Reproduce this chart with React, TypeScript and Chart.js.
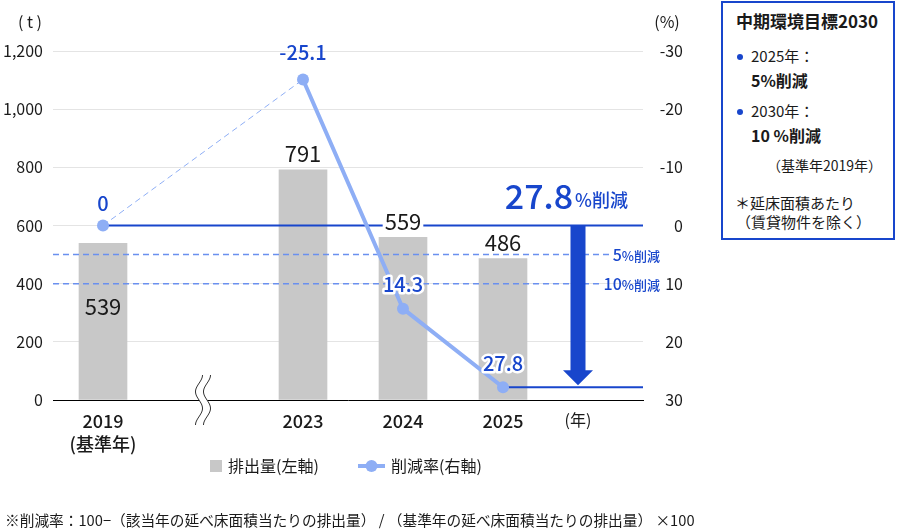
import React, { useEffect, useRef } from 'react';
import { Chart, registerables } from 'chart.js';

Chart.register(...registerables);

const FONT = '"Noto Sans CJK JP", "Noto Sans", sans-serif';
const DARK_BLUE = '#1846cc';
const LIGHT_BLUE = '#8eaef5';
const DASH_BLUE = '#6a90ef';
const BAR_GRAY = '#c8c8c8';
const TEXT = '#1a1a1a';

// ---- data ----
const categories = ['2019', '2023', '2024', '2025'];
const categorySubLabels = ['(基準年)', '', '', ''];
const slotPositions = [0, 2, 3, 4];
const emissions = [539, 791, 559, 486];
const reductionRates = [0, -25.1, 14.3, 27.8];
const leftTicks = [0, 200, 400, 600, 800, 1000, 1200];
const rightTicks = [-30, -20, -10, 0, 10, 20, 30];
const targetRates = [5, 10];
const targetLabels = ['5', '10'];
const yearUnitLabel = '(年)';
const yearUnitSlot = 4.75;
const breakSlot = 1;
const achievedRate = 27.8;
const achievedLabel = '27.8';
const legendLabels = ['排出量(左軸)', '削減率(右軸)'];
const footnote = '※削減率：100−（該当年の延べ床面積当たりの排出量） / （基準年の延べ床面積当たりの排出量） ×100';

const overlayPlugin = {
  id: 'overlay',
  afterDatasetDraw(chart: any, args: any) {
    if (args.meta.type !== 'bar') return;
    const ctx = chart.ctx;
    const xs = chart.scales.x;
    const y1 = chart.scales.y1;
    const area = chart.chartArea;
    const y0 = y1.getPixelForValue(0);
    ctx.save();
    // dashed target lines
    targetRates.forEach((r, i) => {
      const y = y1.getPixelForValue(r);
      const rightEdge = area.right + 17;
      ctx.font = `500 16px ${FONT}`;
      const w1 = ctx.measureText(targetLabels[i]).width;
      ctx.font = `500 13px ${FONT}`;
      const w2 = ctx.measureText('%削減').width;
      const start = rightEdge - w1 - w2;
      ctx.strokeStyle = DASH_BLUE;
      ctx.lineWidth = 1.5;
      ctx.setLineDash([6, 4]);
      ctx.beginPath();
      ctx.moveTo(area.left, y);
      ctx.lineTo(start - 2, y);
      ctx.stroke();
      ctx.setLineDash([]);
      ctx.fillStyle = DARK_BLUE;
      ctx.textBaseline = 'alphabetic';
      ctx.textAlign = 'left';
      ctx.font = `500 16px ${FONT}`;
      ctx.fillText(targetLabels[i], start, y + 6);
      ctx.font = `500 13px ${FONT}`;
      ctx.fillText('%削減', start + w1, y + 6);
    });
    // zero line
    ctx.strokeStyle = DARK_BLUE;
    ctx.lineWidth = 2;
    ctx.beginPath();
    ctx.moveTo(xs.getPixelForValue(slotPositions[0]), y0);
    ctx.lineTo(area.right, y0);
    ctx.stroke();
    // achieved line
    const ya = y1.getPixelForValue(achievedRate);
    ctx.beginPath();
    ctx.moveTo(xs.getPixelForValue(slotPositions[3]), ya);
    ctx.lineTo(area.right, ya);
    ctx.stroke();
    // arrow
    const ax = xs.getPixelForValue(yearUnitSlot);
    const tip = ya - 2;
    const headH = 15;
    ctx.fillStyle = DARK_BLUE;
    ctx.fillRect(ax - 7.5, y0, 15, tip - headH - y0 + 1);
    ctx.beginPath();
    ctx.moveTo(ax - 15, tip - headH);
    ctx.lineTo(ax + 15, tip - headH);
    ctx.lineTo(ax, tip);
    ctx.closePath();
    ctx.fill();
    // big label
    ctx.font = `500 34px ${FONT}`;
    const wBig = ctx.measureText(achievedLabel).width;
    ctx.font = `500 18px ${FONT}`;
    const wSmall = ctx.measureText('%削減').width;
    const rightX = ax + 50;
    const sx = rightX - wSmall - wBig - 2;
    ctx.textAlign = 'left';
    ctx.textBaseline = 'alphabetic';
    ctx.font = `500 34px ${FONT}`;
    ctx.fillText(achievedLabel, sx, y0 - 17);
    ctx.font = `500 18px ${FONT}`;
    ctx.fillText('%削減', sx + wBig + 2, y0 - 19);
    ctx.restore();
  },
  afterDatasetsDraw(chart: any) {
    const ctx = chart.ctx;
    const xs = chart.scales.x;
    const area = chart.chartArea;
    ctx.save();
    // bar labels
    const barMeta = chart.getDatasetMeta(1);
    ctx.font = `400 22px ${FONT}`;
    ctx.textAlign = 'center';
    ctx.textBaseline = 'middle';
    barMeta.data.forEach((bar: any, i: number) => {
      const txt = String(emissions[i]);
      const y = i === 0 ? bar.y + 62 : bar.y - 17;
      const w = ctx.measureText(txt).width;
      ctx.fillStyle = '#fff';
      if (i !== 0) ctx.fillRect(bar.x - w / 2 - 2, y - 11, w + 4, 22);
      ctx.fillStyle = TEXT;
      ctx.fillText(txt, bar.x, y + 1);
    });
    // line labels
    const lineMeta = chart.getDatasetMeta(0);
    ctx.font = `500 20px ${FONT}`;
    lineMeta.data.forEach((pt: any, i: number) => {
      const txt = String(reductionRates[i]);
      const y = pt.y - (i === 1 ? 27 : i === 0 ? 22 : 24);
      ctx.lineWidth = 5;
      ctx.strokeStyle = '#fff';
      ctx.lineJoin = 'round';
      if (i >= 2) ctx.strokeText(txt, pt.x, y);
      ctx.fillStyle = DARK_BLUE;
      ctx.fillText(txt, pt.x, y);
    });
    // axis unit labels
    ctx.fillStyle = TEXT;
    ctx.font = `400 16px ${FONT}`;
    ctx.fillText('( t )', 30, 22);
    ctx.fillText('(%)', 667, 22);
    // axis break
    const bx = xs.getPixelForValue(breakSlot);
    const by = area.bottom;
    const wave = (cx: number) => {
      const pts: [number, number][] = [];
      for (let t = 0; t <= 50; t++) {
        pts.push([cx + 3.5 * Math.sin((t / 50) * Math.PI * 3 + Math.PI * 0.5), by - 25 + t]);
      }
      return pts;
    };
    const L = wave(bx - 4);
    const R = wave(bx + 4);
    ctx.fillStyle = '#fff';
    ctx.beginPath();
    L.forEach(([x, y], k) => (k ? ctx.lineTo(x, y) : ctx.moveTo(x, y)));
    R.slice().reverse().forEach(([x, y]) => ctx.lineTo(x, y));
    ctx.closePath();
    ctx.fill();
    ctx.strokeStyle = '#333';
    ctx.lineWidth = 1;
    [L, R].forEach((P) => {
      ctx.beginPath();
      P.forEach(([x, y], k) => (k ? ctx.lineTo(x, y) : ctx.moveTo(x, y)));
      ctx.stroke();
    });
    // legend
    const ly = 466;
    ctx.fillStyle = BAR_GRAY;
    ctx.fillRect(210, ly - 6, 12, 12);
    ctx.fillStyle = TEXT;
    ctx.textAlign = 'left';
    ctx.font = `400 16px ${FONT}`;
    ctx.fillText(legendLabels[0], 228, ly);
    ctx.strokeStyle = LIGHT_BLUE;
    ctx.lineWidth = 4;
    ctx.beginPath();
    ctx.moveTo(358, ly);
    ctx.lineTo(385, ly);
    ctx.stroke();
    ctx.fillStyle = LIGHT_BLUE;
    ctx.beginPath();
    ctx.arc(371.5, ly, 6, 0, Math.PI * 2);
    ctx.fill();
    ctx.fillStyle = TEXT;
    ctx.fillText(legendLabels[1], 391, ly);
    // footnote
    ctx.font = `400 14.7px ${FONT}`;
    ctx.fillText(footnote, 5, 520);
    ctx.restore();
  },
};

export default function App() {
  const ref = useRef<HTMLCanvasElement>(null);
  useEffect(() => {
    document.body.style.margin = '0';
    const chart = new Chart(ref.current as HTMLCanvasElement, {
      type: 'bar',
      data: {
        datasets: [
          {
            type: 'line',
            label: legendLabels[1],
            data: slotPositions.map((x, i) => ({ x, y: reductionRates[i] })),
            xAxisID: 'x',
            yAxisID: 'y1',
            order: 1,
            borderColor: LIGHT_BLUE,
            backgroundColor: LIGHT_BLUE,
            borderWidth: 4,
            pointRadius: 6,
            pointHoverRadius: 6,
            pointBorderWidth: 0,
            clip: false,
            segment: {
              borderDash: (c: any) => (c.p0DataIndex === 0 ? [6, 4] : undefined),
              borderWidth: (c: any) => (c.p0DataIndex === 0 ? 1 : undefined),
            },
          } as any,
          {
            type: 'bar',
            label: legendLabels[0],
            data: slotPositions.map((x, i) => ({ x, y: emissions[i] })),
            xAxisID: 'x',
            yAxisID: 'y',
            order: 2,
            backgroundColor: BAR_GRAY,
            barThickness: 48,
          } as any,
        ],
      },
      options: {
        responsive: true,
        maintainAspectRatio: false,
        animation: false,
        events: [],
        layout: { padding: { top: 51, left: 0, right: 214, bottom: 0 } },
        plugins: { legend: { display: false }, tooltip: { enabled: false } },
        scales: {
          x: {
            type: 'linear',
            min: -0.5,
            max: 5.4,
            offset: false,
            grid: { display: false, drawTicks: false },
            border: { display: true, color: '#000', width: 1 },
            afterBuildTicks: (s: any) => {
              s.ticks = [...slotPositions, yearUnitSlot].map((v) => ({ value: v }));
            },
            afterFit: (s: any) => {
              s.height = 130;
            },
            ticks: {
              autoSkip: false,
              maxRotation: 0,
              padding: 10,
              color: TEXT,
              font: (c: any) =>
                c.index >= categories.length
                  ? { family: FONT, size: 16, weight: '400', lineHeight: 1.25 }
                  : { family: FONT, size: 18, weight: '500', lineHeight: 1.25 },
              callback: (_v: any, i: number) => {
                if (i >= categories.length) return yearUnitLabel;
                return categorySubLabels[i] ? [categories[i], categorySubLabels[i]] : categories[i];
              },
            },
          },
          y: {
            position: 'left',
            min: 0,
            max: 1200,
            grid: { color: '#e4e4e4', drawTicks: false, lineWidth: 1 },
            border: { display: false },
            afterBuildTicks: (s: any) => {
              s.ticks = leftTicks.map((v) => ({ value: v }));
            },
            afterFit: (s: any) => {
              s.width = 53;
            },
            ticks: {
              padding: 10,
              color: TEXT,
              font: { family: FONT, size: 16 },
              callback: (v: any) => Number(v).toLocaleString('en-US'),
            },
          },
          y1: {
            position: 'right',
            min: -30,
            max: 30,
            reverse: true,
            grid: { display: false, drawTicks: false },
            border: { display: false },
            afterBuildTicks: (s: any) => {
              s.ticks = rightTicks.map((v) => ({ value: v }));
            },
            afterFit: (s: any) => {
              s.width = 40;
            },
            ticks: {
              padding: 9,
              crossAlign: 'far',
              color: TEXT,
              font: { family: FONT, size: 16 },
              callback: (v: any) => String(v),
            },
          },
        },
      } as any,
      plugins: [overlayPlugin],
    });
    return () => chart.destroy();
  }, []);

  const line = (text: string, left: number, cy: number, size: number, bold = false, extra: any = {}) => (
    <div
      style={{
        position: 'absolute',
        left,
        top: cy - size * 0.75,
        fontSize: size,
        lineHeight: `${size * 1.5}px`,
        fontWeight: bold ? 700 : 400,
        whiteSpace: 'nowrap',
        color: TEXT,
        ...extra,
      }}
    >
      {text}
    </div>
  );

  return (
    <div style={{ position: 'relative', width: 897, height: 530, fontFamily: FONT, background: '#fff' }}>
      <div style={{ position: 'absolute', left: 0, top: 0, width: 897, height: 530 }}>
        <canvas ref={ref} />
      </div>
      <div
        style={{
          position: 'absolute',
          left: 721,
          top: 1,
          width: 174,
          height: 239,
          border: `2px solid ${DARK_BLUE}`,
          boxSizing: 'border-box',
          background: '#fff',
        }}
      >
        {line('中期環境目標2030', 13, 18, 17, true)}
        <div style={{ position: 'absolute', left: 14, top: 51, width: 6, height: 6, borderRadius: 3, background: DARK_BLUE }} />
        {line('2025年：', 28, 53, 15)}
        {line('5%削減', 28, 77, 16, true)}
        <div style={{ position: 'absolute', left: 14, top: 106, width: 6, height: 6, borderRadius: 3, background: DARK_BLUE }} />
        {line('2030年：', 28, 108, 15)}
        {line('10 %削減', 28, 132, 16, true)}
        {line('（基準年2019年）', 44, 162, 14)}
        {line('＊延床面積あたり', 12, 200, 15)}
        {line('（賃貸物件を除く）', 13, 219, 15)}
      </div>
    </div>
  );
}
